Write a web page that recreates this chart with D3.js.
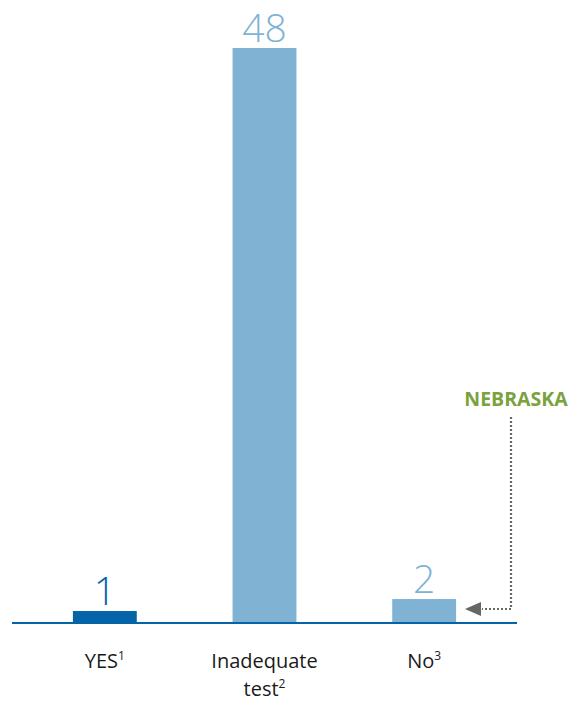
<!DOCTYPE html>
<html><head><meta charset="utf-8">
<script src="https://cdn.jsdelivr.net/npm/d3@7"></script>
<style>body{margin:0;background:#fff}</style>
</head><body>
<svg id="chart" width="580" height="722"></svg>
<script>
const categories = ["YES", "Inadequate test", "No"];
const labelLines = [["YES", "1"], ["Inadequate", "test", "2"], ["No", "3"]];
const values = [1, 48, 2];
const barColors = ["#0464a7", "#7fb2d3", "#7fb2d3"];
const annotation = "NEBRASKA";

const svg = d3.select("#chart");
const baseline = 623;
const x = d3.scaleBand().domain(categories).range([25, 504]).paddingInner(0.6).paddingOuter(0.3);
const y = d3.scaleLinear().domain([0, 48]).range([baseline, 48]);
const font = "'Open Sans', sans-serif";

svg.selectAll("rect.bar").data(values).join("rect")
  .attr("x", (d, i) => x(categories[i]))
  .attr("width", x.bandwidth())
  .attr("y", d => y(d))
  .attr("height", d => baseline - y(d))
  .attr("fill", (d, i) => barColors[i]);

svg.selectAll("text.val").data(values).join("text")
  .attr("x", (d, i) => x(categories[i]) + x.bandwidth() / 2)
  .attr("y", d => y(d) - 6)
  .attr("text-anchor", "middle")
  .attr("font-family", font).attr("font-weight", 300)
  .attr("font-size", 39)
  .attr("fill", (d, i) => barColors[i])
  .text(d => d);

// axis line
svg.append("line").attr("x1", 12).attr("x2", 517).attr("y1", baseline).attr("y2", baseline)
  .attr("stroke", "#0464a7").attr("stroke-width", 2);

// category labels
labelLines.forEach((lines, i) => {
  const cx = x(categories[i]) + x.bandwidth() / 2;
  const sup = lines[lines.length - 1];
  const words = lines.slice(0, -1);
  words.forEach((w, j) => {
    const t = svg.append("text")
      .attr("x", cx).attr("y", 668 + j * 28)
      .attr("text-anchor", "middle")
      .attr("font-family", font).attr("font-size", 20).attr("fill", "#1a1a1a");
    t.append("tspan").text(w);
    if (j === words.length - 1) {
      t.append("tspan").attr("dy", -8).attr("font-size", 12).text(sup);
    }
  });
});

// annotation
svg.append("text").attr("x", 516).attr("y", 406).attr("text-anchor", "middle")
  .attr("font-family", font).attr("font-weight", 700).attr("font-size", 19.5)
  .attr("fill", "#7aa23e").text(annotation);

const ax = 511, ay = 609;
svg.append("path")
  .attr("d", `M${ax},417 V${ay} H482`)
  .attr("fill", "none").attr("stroke", "#666").attr("stroke-width", 2.2)
  .attr("stroke-dasharray", "2,2");
svg.append("path")
  .attr("d", `M465,${ay} L481,${ay - 7} L481,${ay + 7} Z`)
  .attr("fill", "#666");
</script>
</body></html>
